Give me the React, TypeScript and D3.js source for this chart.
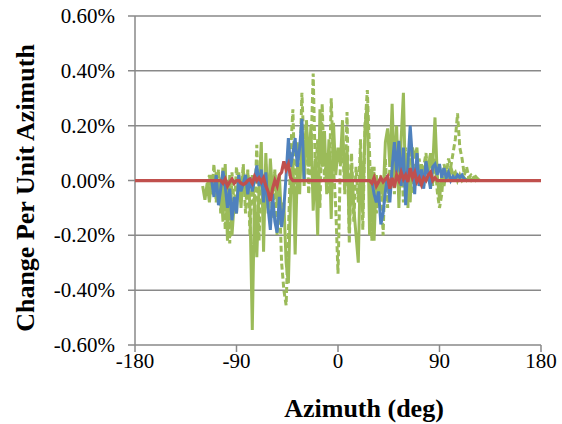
import React from 'react'
import * as d3 from 'd3'

// azimuth grid (deg) shared by the series, values in percent
const azimuthDeg = [
  -120, -118, -116, -114, -112, -110, -108, -106, -104, -102,
  -100, -98, -96, -94, -92, -90, -88, -86, -84, -82,
  -80, -78, -76, -74, -72, -70, -68, -66, -64, -62,
  -60, -58, -56, -54, -52, -50, -48, -46, -44, -42,
  -40, -38, -36, -34, -32, -30, -28, -26, -24, -22,
  -20, -18, -16, -14, -12, -10, -8, -6, -4, -2,
  0, 2, 4, 6, 8, 10, 12, 14, 16, 18,
  20, 22, 24, 26, 28, 30, 32, 34, 36, 38,
  40, 42, 44, 46, 48, 50, 52, 54, 56, 58,
  60, 62, 64, 66, 68, 70, 72, 74, 76, 78,
  80, 82, 84, 86, 88, 90, 92, 94, 96, 98,
  100, 102, 104, 106, 108, 110, 112, 114, 116, 118,
  120, 122, 124, 126
]

const greenSolid = [
  -0.02, -0.07, -0.01, -0.08, 0.02, -0.04, 0.03, -0.06, 0.01, -0.15,
  0.06, -0.22, 0.02, -0.2, -0.08, -0.12, 0.03, -0.1, 0.04, -0.06,
  0.03, -0.1, -0.545, -0.05, -0.28, -0.02, 0.14, -0.26, 0.1, -0.12,
  0.08, -0.05, 0.03, -0.08, 0.02, -0.15, -0.08, -0.3, -0.375, -0.05,
  0.08, -0.27, 0.05, -0.05, 0.18, -0.02, 0.22, 0.05, 0.2, -0.11,
  0.08, -0.2, 0.26, 0.05, 0.18, -0.05, 0.15, -0.14, 0.21, 0.02,
  0.12, 0.06, 0.22, -0.02, 0.12, -0.18, 0.05, -0.1, -0.2, -0.3,
  0.1, -0.12, 0.2, 0.28, -0.2, 0.05, -0.22, 0.02, -0.08, 0.0,
  -0.06, 0.14, 0.19, 0.05, 0.28, 0.02, 0.2, -0.1, 0.15, 0.32,
  -0.05, 0.1, -0.08, 0.12, 0.08, 0.12, -0.02, 0.06, -0.02, 0.08,
  0.03, 0.1, 0.05, 0.23, 0.02, -0.07, 0.02, -0.02, 0.04, 0.0,
  0.05, 0.02, 0.03, 0.0, 0.02, 0.0, 0.01, 0.0, 0.01, 0.0,
  0.01, 0.0, 0.005, 0
]

const greenDashed = [
  null, null, -0.02, 0.02, -0.05, 0.06, -0.08, 0.04, -0.12, 0.05,
  -0.18, 0.0, -0.23, 0.03, -0.1, 0.05, -0.05, -0.08, 0.06, -0.12,
  0.04, -0.2, 0.02, -0.12, 0.13, -0.22, 0.05, -0.15, 0.06, -0.1,
  0.0, -0.14, 0.04, -0.2, -0.05, -0.3, -0.4, -0.455, -0.2, 0.1,
  0.26, -0.05, 0.14, 0.02, 0.32, 0.1, 0.2, -0.05, 0.1, 0.39,
  0.02, 0.15, -0.1, 0.28, 0.0, 0.1, -0.05, 0.3, 0.05, -0.1,
  -0.34, 0.05, 0.15, -0.05, 0.25, -0.23, 0.1, -0.15, 0.05, -0.08,
  0.15, -0.18, 0.2, 0.33, 0.1, -0.22, 0.05, -0.12, -0.05, 0.02,
  -0.2, 0.08, -0.1, 0.05, 0.12, -0.05, 0.15, 0.02, 0.1, -0.08,
  0.12, -0.1, 0.15, -0.05, 0.06, 0.02, 0.08, -0.02, 0.05, 0.1,
  0.02, 0.1, -0.02, 0.08, -0.04, -0.1, -0.05, 0.06, 0.02, 0.08,
  0.05, 0.1, 0.15, 0.245, 0.12, 0.08, 0.02, 0.05, 0.01, 0.02,
  0.01, 0.015, 0.005, 0
]

const blue = [
  null, null, null, null, 0.0, -0.06, 0.02, -0.09, -0.03, 0.035,
  -0.02, -0.1, -0.03, -0.145, -0.06, -0.12, 0.02, -0.04, -0.01, 0.02,
  -0.05, 0.01, -0.04, 0.0, 0.055, -0.02, 0.04, -0.08, 0.03, -0.1,
  -0.18, -0.05, -0.15, -0.19, -0.06, -0.17, -0.1, 0.02, 0.155, 0.05,
  0.1, 0.155, 0.05, 0.12, 0.225, 0.0, null, null, null, null,
  null, null, null, null, null, null, null, null, null, null,
  null, null, null, null, null, null, null, null, null, null,
  null, null, null, null, null, 0.0, -0.05, -0.08, -0.04, -0.16,
  -0.12, -0.04, 0.02, -0.08, 0.05, 0.14, 0.03, 0.145, -0.02, 0.12,
  -0.09, 0.06, 0.2, 0.08, -0.05, 0.1, -0.02, 0.04, -0.03, 0.07,
  0.02, -0.03, 0.05, 0.06, 0.02, 0.06, 0.01, 0.045, 0.01, 0.03,
  0.0, 0.015, 0.005, 0.02, 0.01, 0.02, 0.005, 0, null, null,
  null, null, null, null
]

const red = [
  0, 0, 0, 0, 0, 0, 0, 0, 0, -0.01,
  0.005, -0.02, -0.005, 0.005, -0.01, 0, 0, -0.01, -0.015, -0.01,
  0, 0.005, -0.01, 0.015, 0.0, 0.01, -0.005, 0.01, -0.02, -0.04,
  -0.075, -0.03, 0.0, -0.02, 0.02, 0.03, 0.07, 0.04, 0.06, 0.01,
  0, 0, 0, 0, 0, 0, 0, 0, 0, 0,
  0, 0, 0, 0, 0, 0, 0, 0, 0, 0,
  0, 0, 0, 0, 0, 0, 0, 0, 0, 0,
  0, 0, 0, 0, 0, -0.01, 0.01, -0.02, -0.005, 0.01,
  -0.005, 0.005, 0.015, -0.03, 0.01, -0.025, 0.02, 0.0, 0.03, 0.005,
  0.02, -0.005, 0.045, 0.01, 0.03, -0.005, 0.01, -0.015, 0.01, 0.0,
  0.02, 0.03, 0.0, 0.01, 0, 0, 0, 0, 0, 0,
  0, 0, 0, 0, 0, 0, 0, 0, 0, 0,
  0, 0, 0, 0
]

// red trace runs flat across the whole axis
const axisEnds = [-180, 180]

const xTicks = [-180, -90, 0, 90, 180]
const yTicks = [-0.6, -0.4, -0.2, 0, 0.2, 0.4, 0.6]

const gridColor = '#898989'

type Pt = [number, number | null]

export default function App() {
  const x = d3.scaleLinear().domain([-180, 180]).range([135, 541])
  const y = d3.scaleLinear().domain([-0.6, 0.6]).range([345, 16])

  const line = d3
    .line<Pt>()
    .defined(d => d[1] !== null)
    .x(d => x(d[0]))
    .y(d => y(d[1] as number))

  const pts = (vals: (number | null)[]): Pt[] => azimuthDeg.map((a, i) => [a, vals[i]])
  const redPts: Pt[] = [[axisEnds[0], 0], ...pts(red), [axisEnds[1], 0]]

  return (
    <svg
      width={562}
      height={424}
      fontFamily="Times New Roman"
      style={{position: 'absolute', left: 0, top: 0, fontFamily: 'Times New Roman'}}
    >
      {/* gridlines + y ticks */}
      {yTicks.map(t => (
        <line key={'g' + t} x1={128} x2={541} y1={y(t)} y2={y(t)} stroke={gridColor} strokeWidth={1.5} />
      ))}
      <line x1={x(-180)} x2={x(-180)} y1={y(0.6)} y2={y(-0.6)} stroke={gridColor} strokeWidth={1.5} />
      {xTicks.map(t => (
        <line key={'xt' + t} x1={x(t)} x2={x(t)} y1={y(-0.6)} y2={y(-0.6) + 7} stroke={gridColor} strokeWidth={1.5} />
      ))}

      {/* series */}
      <path d={line(pts(greenDashed)) || ''} fill="none" stroke="#9BBB59" strokeWidth={3} strokeDasharray="6,3" />
      <path d={line(pts(greenSolid)) || ''} fill="none" stroke="#9BBB59" strokeWidth={3} />
      <path d={line(pts(blue)) || ''} fill="none" stroke="#4F81BD" strokeWidth={3} />
      <path d={line(redPts) || ''} fill="none" stroke="#C0504D" strokeWidth={3.25} />

      {/* tick labels */}
      {yTicks.map(t => (
        <text key={'yl' + t} x={115} y={y(t) + 7} textAnchor="end" fontSize={21} fill="#000">
          {t.toFixed(2) + '%'}
        </text>
      ))}
      {xTicks.map(t => (
        <text key={'xl' + t} x={x(t)} y={368} textAnchor="middle" fontSize={21} fill="#000">
          {t}
        </text>
      ))}

      {/* axis titles */}
      <text x={364} y={417} textAnchor="middle" fontSize={26} fontWeight="bold">
        Azimuth (deg)
      </text>
      <text transform="translate(34,188) rotate(-90)" textAnchor="middle" fontSize={26} fontWeight="bold">
        Change Per Unit Azimuth
      </text>
    </svg>
  )
}
